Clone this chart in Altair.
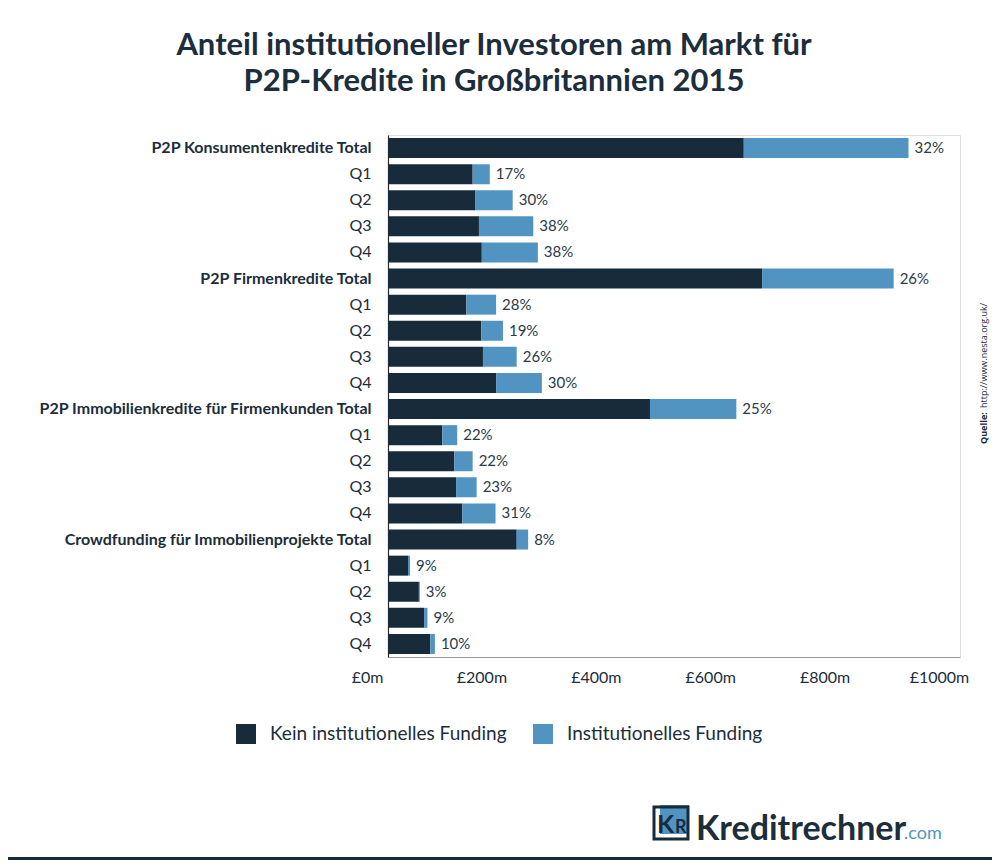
import altair as alt
import pandas as pd

# ---- data ----
labels = [
    "P2P Konsumentenkredite Total", "Q1", "Q2", "Q3", "Q4",
    "P2P Firmenkredite Total", "Q1", "Q2", "Q3", "Q4",
    "P2P Immobilienkredite für Firmenkunden Total", "Q1", "Q2", "Q3", "Q4",
    "Crowdfunding für Immobilienprojekte Total", "Q1", "Q2", "Q3", "Q4",
]
kein = [622, 148, 153, 159, 164, 654, 137, 163, 166, 189, 458, 95, 116, 119, 130, 225, 35, 54, 63, 74]
inst = [288, 30, 65, 95, 98, 230, 52, 38, 59, 80, 151, 26, 32, 36, 58, 20, 3.5, 1.7, 6, 8]
pct_labels = ["32%", "17%", "30%", "38%", "38%", "26%", "28%", "19%", "26%", "30%",
              "25%", "22%", "22%", "23%", "31%", "8%", "9%", "3%", "9%", "10%"]
series = ["Kein institutionelles Funding", "Institutionelles Funding"]
x_ticks = [0, 200, 400, 600, 800, 1000]

DARK = "#172b3a"
BLUE = "#5294c1"
TEXT = "#1c2d3b"

# unique keys for repeated quarter labels (trailing spaces, trimmed on display)
keys = []
seen = {}
for lab in labels:
    n = seen.get(lab, 0)
    keys.append(lab + " " * n)
    seen[lab] = n + 1

long_rows = []
for k, a, b in zip(keys, kein, inst):
    long_rows.append({"cat": k, "series": series[0], "value": a, "ord": 0})
    long_rows.append({"cat": k, "series": series[1], "value": b, "ord": 1})
long_df = pd.DataFrame(long_rows)

wide_df = pd.DataFrame({"cat": keys, "total": [a + b for a, b in zip(kein, inst)], "pct": pct_labels})

y_enc = alt.Y(
    "cat:N", sort=keys, title=None,
    scale=alt.Scale(paddingInner=0.23, paddingOuter=0.115),
    axis=alt.Axis(
        labelExpr="trim(datum.label)",
        labelFont="Lato", labelFontSize=16, labelColor=TEXT,
        labelFontWeight=alt.condition("indexof(datum.value, 'Total') >= 0", alt.value("bold"), alt.value("normal")),
        labelPadding=17, ticks=False, tickSize=0, domainColor="#2a2a2a", domainWidth=1.2,
        grid=False, labelLimit=400,
    ),
)

bars = alt.Chart(long_df).mark_bar(size=20).encode(
    y=y_enc,
    x=alt.X(
        "value:Q", stack="zero", title=None,
        scale=alt.Scale(domain=[0, 1000], nice=False),
        axis=alt.Axis(
            values=x_ticks, labelExpr="'£' + datum.value + 'm'",
            labelFont="Lato", labelFontSize=16, labelColor=TEXT,
            labelPadding=12, ticks=False, tickSize=0, grid=False,
            domainColor="#9a9a9a", labelOffset=-21, labelFlush=False, labelOverlap=False,
        ),
    ),
    color=alt.Color(
        "series:N",
        scale=alt.Scale(domain=series, range=[DARK, BLUE]),
        legend=alt.Legend(
            orient="none", legendX=-152, legendY=589, direction="horizontal",
            title=None, symbolType="square", symbolSize=400, symbolStrokeWidth=0,
            symbolOpacity=1, labelFont="Lato", labelFontSize=19, labelColor=TEXT,
            labelOffset=14, columnPadding=26, padding=0, labelLimit=400,
        ),
    ),
    order=alt.Order("ord:Q"),
)

pct_text = alt.Chart(wide_df).mark_text(
    align="left", baseline="middle", dx=6, font="Lato", fontSize=15, color="#2b3a48"
).encode(
    y=alt.Y("cat:N", sort=keys),
    x=alt.X("total:Q"),
    text="pct:N",
)

# source note (rotated)
src1 = alt.Chart(pd.DataFrame({"t": ["Quelle:"]})).mark_text(
    angle=270, align="left", baseline="middle", font="Open Sans", fontSize=9,
    fontWeight="bold", color=TEXT
).encode(x=alt.value(596), y=alt.value(309), text="t:N")
src2 = alt.Chart(pd.DataFrame({"t": ["http://www.nesta.org.uk/"]})).mark_text(
    angle=270, align="left", baseline="middle", font="Open Sans", fontSize=9, color=TEXT
).encode(x=alt.value(596), y=alt.value(273), text="t:N")

# logo
logo_box = alt.Chart(pd.DataFrame({"a": [1]})).mark_rect(color=BLUE).encode(
    x=alt.value(272), x2=alt.value(301), y=alt.value(670), y2=alt.value(699)
)
logo_frame = alt.Chart(pd.DataFrame({"a": [1]})).mark_rect(
    fill=None, stroke=DARK, strokeWidth=3
).encode(x=alt.value(266), x2=alt.value(300), y=alt.value(672), y2=alt.value(704))
logo_k = alt.Chart(pd.DataFrame({"t": ["K"]})).mark_text(
    align="left", baseline="alphabetic", font="Lato", fontSize=25, fontWeight="bold", color=DARK
).encode(x=alt.value(269), y=alt.value(698), text="t:N")
logo_r = alt.Chart(pd.DataFrame({"t": ["R"]})).mark_text(
    align="left", baseline="alphabetic", font="Lato", fontSize=18, fontWeight="bold", color=DARK
).encode(x=alt.value(287), y=alt.value(698), text="t:N")
logo_name = alt.Chart(pd.DataFrame({"t": ["Kreditrechner"]})).mark_text(
    align="left", baseline="alphabetic", font="Lato", fontSize=34, fontWeight="bold", color=TEXT
).encode(x=alt.value(308), y=alt.value(705), text="t:N")
logo_com = alt.Chart(pd.DataFrame({"t": [".com"]})).mark_text(
    align="left", baseline="alphabetic", font="Lato", fontSize=18, color=BLUE
).encode(x=alt.value(516), y=alt.value(704), text="t:N")

band = alt.Chart(pd.DataFrame({"a": [1]})).mark_rect(color="#172b3a").encode(
    x=alt.value(-390), x2=alt.value(620), y=alt.value(722), y2=alt.value(740)
)

chart = alt.layer(
    bars, pct_text, src1, src2, logo_box, logo_frame, logo_k, logo_r, logo_name, logo_com, band
).properties(
    width=572, height=522,
    autosize=alt.AutoSizeParams(type="none"),
    padding={"left": 380, "top": 127, "right": 32, "bottom": 203},
    title=alt.TitleParams(
        text=["Anteil institutioneller Investoren am Markt für", "P2P-Kredite in Großbritannien 2015"],
        font="Lato", fontSize=31, fontWeight="bold", color=TEXT, anchor="middle",
        dx=-180, offset=37, lineHeight=36,
    ),
).configure_view(stroke=None).configure(background="white")

chart.save("out.html", embed_options={"renderer": "svg", "actions": False})
